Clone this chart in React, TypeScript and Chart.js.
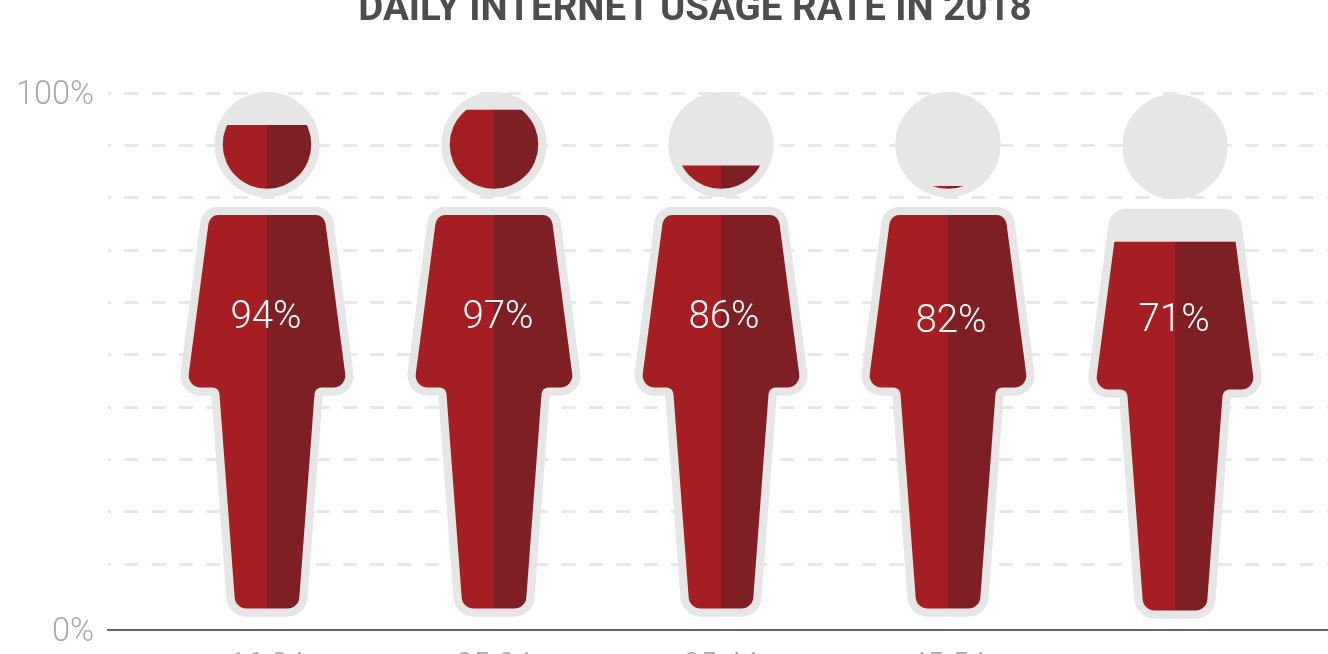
import React, { useEffect, useRef } from "react";
import { Chart, registerables } from "chart.js";

Chart.register(...registerables);

const TITLE = "DAILY INTERNET USAGE RATE IN 2018";
const AGE_GROUPS = ["16-24", "25-34", "35-44", "45-54", "55-64"];
const USAGE_RATES = [94, 97, 86, 82, 71];
const GRID_LEVELS = [10, 20, 30, 40, 50, 60, 70, 80, 90, 100];

// The baseline sits a little under the true zero of the ruled scale.
const AXIS_FLOOR = -2.55;
const FILL_FLOOR = -5.6;
const FILL_CEILING = 100.32;

const LIGHT_RED = "#a41e22";
const DARK_RED = "#7e1f24";
const HALO = "#e6e6e6";
const AXIS_GREY = "#a9a9a9";

// Small per-figure nudges of the figures and of their captions.
const FIGURE_SHIFT = [0, 0, 0, 0, 2];
const CAPTION_DX = [-1, 4, 3, 3, -1];
const CAPTION_DY = [0, 0, 0, 4, 3];

// The heading is centred a little right of the canvas middle.
const TITLE_SHIFT = 31;

type Pt = [number, number, number];

// Torso and legs outline, relative to the figure's centre line and foot: [dx, dy, corner radius].
const BODY: Pt[] = [
  [-57.4, -393.5, 10],
  [57.4, -393.5, 10],
  [80, -221, 12],
  [48, -221, 7],
  [31.5, 0, 12],
  [-31.5, 0, 12],
  [-48, -221, 7],
  [-80, -221, 12],
];
const HEAD_DY = -464;
const HEAD_R = 44.3;
const FOOT_ABOVE_AXIS = 21.5;
const HALO_WIDTH = 16.5;

function tracePerson(ctx: CanvasRenderingContext2D, cx: number, foot: number) {
  ctx.moveTo(cx + HEAD_R, foot + HEAD_DY);
  ctx.arc(cx, foot + HEAD_DY, HEAD_R, 0, Math.PI * 2);
  ctx.closePath();
  const n = BODY.length;
  const first = BODY[0];
  const last = BODY[n - 1];
  ctx.moveTo(cx + (first[0] + last[0]) / 2, foot + (first[1] + last[1]) / 2);
  for (let i = 0; i < n; i++) {
    const p = BODY[i];
    const q = BODY[(i + 1) % n];
    ctx.arcTo(cx + p[0], foot + p[1], cx + q[0], foot + q[1], p[2]);
  }
  ctx.closePath();
}

function traceAll(chart: any) {
  const { ctx, chartArea, scales } = chart;
  ctx.beginPath();
  USAGE_RATES.forEach((_, i) => {
    const cx = scales.x.getPixelForValue(i);
    tracePerson(ctx, cx, chartArea.bottom - FOOT_ABOVE_AXIS + FIGURE_SHIFT[i]);
  });
}

const personPlugin = {
  id: "personFigures",
  afterLayout(chart: any) {
    if (chart.titleBlock) {
      chart.titleBlock.left += TITLE_SHIFT;
      chart.titleBlock.right += TITLE_SHIFT;
    }
  },
  beforeDatasetsDraw(chart: any) {
    const { ctx } = chart;
    ctx.save();
    traceAll(chart);
    ctx.fillStyle = HALO;
    ctx.strokeStyle = HALO;
    ctx.lineWidth = HALO_WIDTH;
    ctx.lineJoin = "round";
    ctx.fill();
    ctx.stroke();
    ctx.restore();
  },
  beforeDatasetDraw(chart: any) {
    const { ctx } = chart;
    ctx.save();
    traceAll(chart);
    ctx.clip();
  },
  afterDatasetDraw(chart: any) {
    chart.ctx.restore();
  },
  afterDatasetsDraw(chart: any) {
    const { ctx, scales } = chart;
    ctx.save();
    ctx.fillStyle = "#ffffff";
    ctx.font = "300 38.5px Roboto";
    ctx.textAlign = "center";
    ctx.textBaseline = "middle";
    USAGE_RATES.forEach((v, i) => {
      const x = scales.x.getPixelForValue(i) + CAPTION_DX[i];
      const y = scales.y.getPixelForValue(56.9) + CAPTION_DY[i];
      ctx.fillText(`${v}%`, x, y);
    });
    ctx.restore();
  },
};

export default function App() {
  const ref = useRef<HTMLCanvasElement>(null);

  useEffect(() => {
    document.body.style.margin = "0";
    const points = USAGE_RATES.map((v, i) => ({ x: i, y: v }));
    const half = (color: string) => ({
      data: points,
      backgroundColor: color,
      yAxisID: "yFill",
      base: FILL_FLOOR,
      categoryPercentage: 0.74,
      barPercentage: 1,
    });
    const chart = new Chart(ref.current as HTMLCanvasElement, {
      type: "bar",
      data: { datasets: [half(LIGHT_RED), half(DARK_RED)] },
      plugins: [personPlugin],
      options: {
        animation: false,
        responsive: false,
        layout: { padding: 0 },
        plugins: {
          legend: { display: false },
          tooltip: { enabled: false },
          title: {
            display: true,
            text: TITLE,
            color: "#4d4d4d",
            font: { family: "Roboto", size: 38.5, weight: "bold", lineHeight: 1.2 },
            padding: { top: 17, bottom: 59.8 },
          },
        },
        scales: {
          x: {
            type: "linear",
            min: -0.7004,
            max: 4.674,
            offset: false,
            grid: { display: false },
            border: { display: true, color: "#666666", width: 2 },
            afterBuildTicks(scale: any) {
              scale.ticks = AGE_GROUPS.map((_, i) => ({ value: i }));
            },
            afterFit(scale: any) {
              scale.height = 70;
            },
            ticks: {
              autoSkip: false,
              maxRotation: 0,
              padding: 9.5,
              color: AXIS_GREY,
              font: { family: "Roboto", size: 30, weight: "300" },
              callback: (value: number) =>
                value === 4 ? ["", AGE_GROUPS[4]] : AGE_GROUPS[value],
            },
          },
          y: {
            type: "linear",
            position: "left",
            min: AXIS_FLOOR,
            max: 100,
            afterBuildTicks(scale: any) {
              scale.ticks = [AXIS_FLOOR, ...GRID_LEVELS].map((value) => ({ value }));
            },
            afterFit(scale: any) {
              scale.width = 108;
            },
            grid: {
              drawTicks: false,
              lineWidth: 3,
              color: (c: any) => (c.tick && c.tick.value === AXIS_FLOOR ? "rgba(0,0,0,0)" : "#e8e8e8"),
            },
            border: { display: false, dash: [14, 13.33], dashOffset: 11 },
            ticks: {
              autoSkip: false,
              padding: 14,
              labelOffset: 2.5,
              color: AXIS_GREY,
              font: { family: "Roboto", size: 32.5, weight: "300" },
              callback: (value: number) =>
                value === 100 ? "100%" : value === AXIS_FLOOR ? "0%" : "",
            },
          },
          yFill: {
            type: "linear",
            display: false,
            min: FILL_FLOOR,
            max: FILL_CEILING,
          },
        },
      } as any,
    });
    return () => chart.destroy();
  }, []);

  return (
    <div style={{ position: "fixed", inset: 0, overflow: "hidden", background: "#fff" }}>
      <canvas
        ref={ref}
        width={1328}
        height={730}
        style={{ position: "absolute", left: 0, top: -30, width: 1328, height: 730 }}
      />
    </div>
  );
}
